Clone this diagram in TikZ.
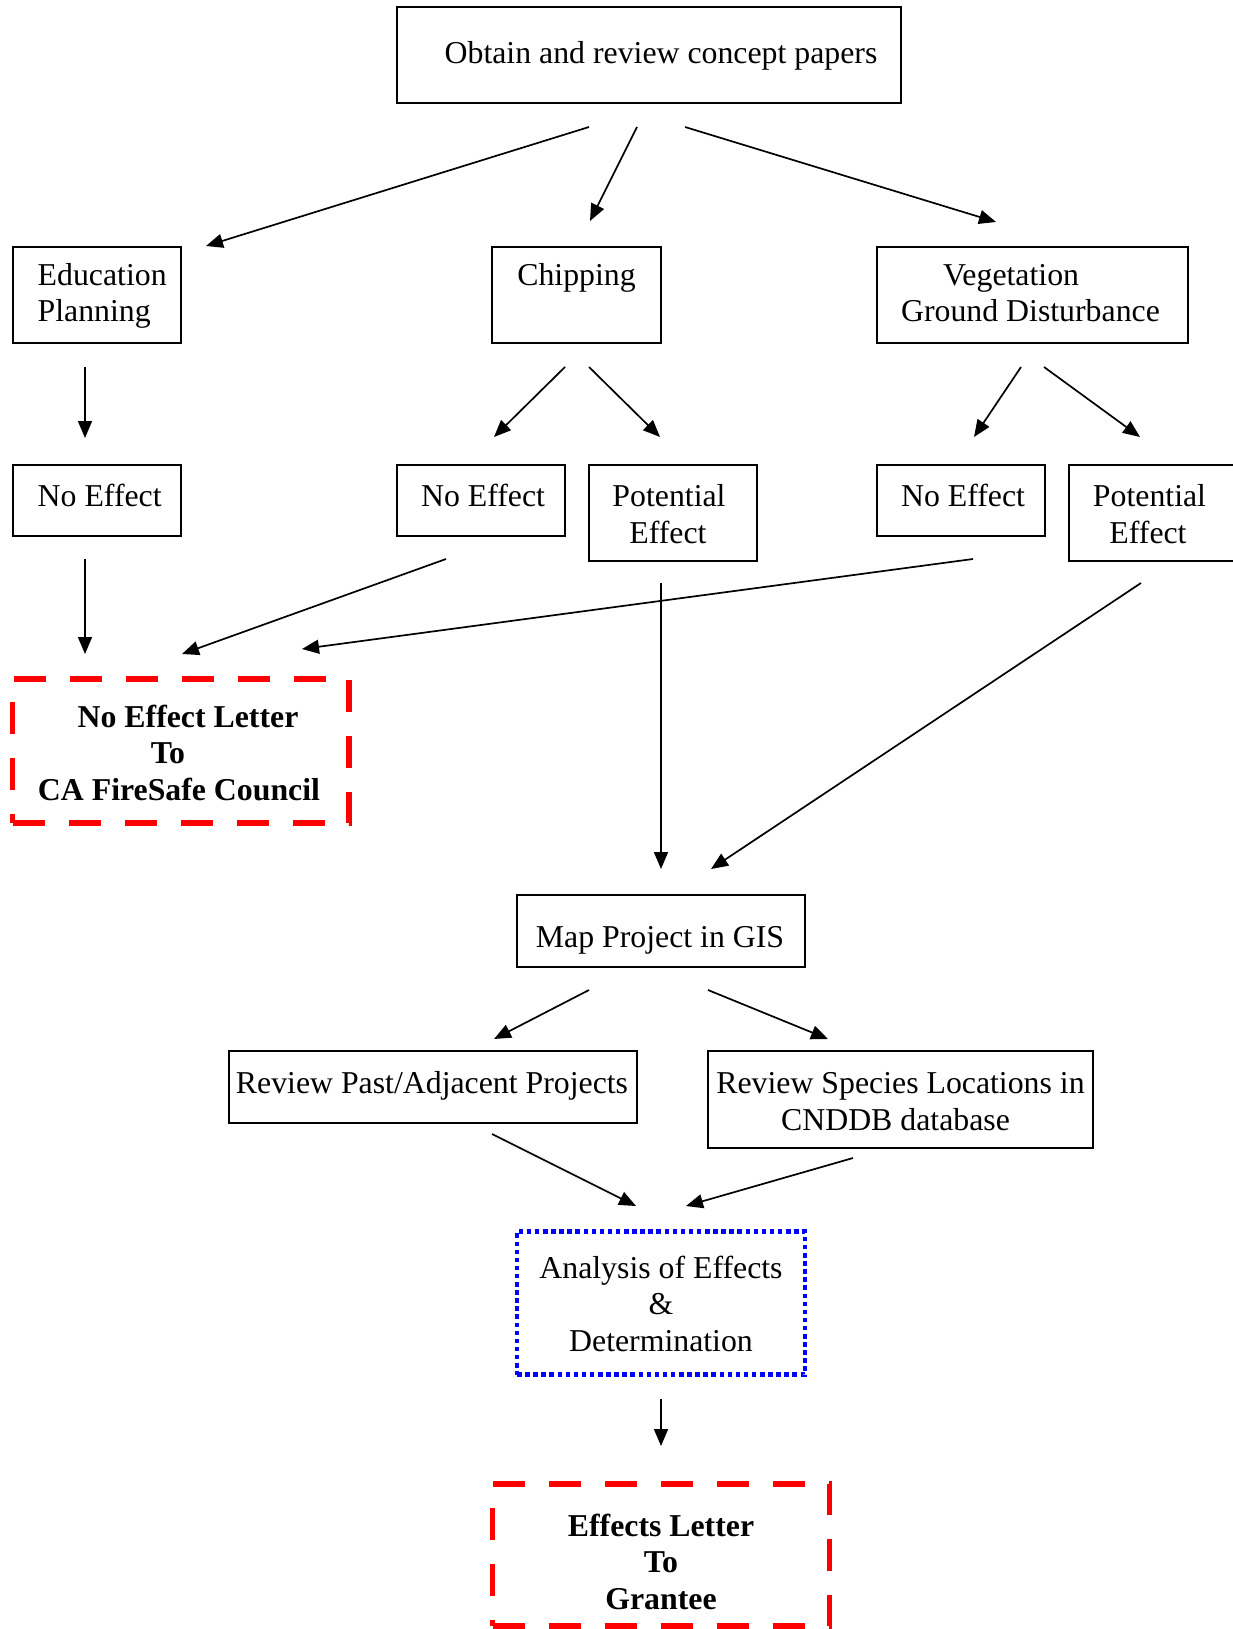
\documentclass[tikz,border=0pt]{standalone}
\usepackage{fontspec}
\setmainfont{Liberation Serif}
\usetikzlibrary{arrows.meta}
\begin{document}
\begin{tikzpicture}[x=1pt,y=-1pt,
  box/.style={draw, line width=2pt, inner sep=0pt, outer sep=0pt},
  reddash/.style={draw=red, line width=5.8pt, dash pattern=on 32pt off 24pt, inner sep=0pt},
  bluedot/.style={draw=blue, line width=4.5pt, dash pattern=on 4.5pt off 3.6pt, inner sep=0pt},
  txt/.style={anchor=base, inner sep=0pt, font=\fontsize{31.8}{36.5}\selectfont},
  btxt/.style={txt, font=\fontsize{31.8}{36.5}\selectfont\bfseries},
  arr/.style={-{Triangle[length=17pt,width=14pt]}, line width=1.7pt}]
\useasboundingbox (0,0) rectangle (1232,1629);

% boxes
\node[box, minimum width=504pt, minimum height=96pt] (top) at (649,55) {};
\node[box, minimum width=168.5pt, minimum height=96pt] (edu) at (96.75,295) {};
\node[box, minimum width=169pt, minimum height=96pt] (chip) at (576.5,295) {};
\node[box, minimum width=311pt, minimum height=96pt] (veg) at (1032.5,295) {};
\node[box, minimum width=168.5pt, minimum height=71pt] (neA) at (96.75,500.5) {};
\node[box, minimum width=168pt, minimum height=71pt] (neB) at (481,500.5) {};
\node[box, minimum width=168pt, minimum height=96pt] (peA) at (673,513) {};
\node[box, minimum width=168pt, minimum height=71pt] (neC) at (961,500.5) {};
\node[box, minimum width=168pt, minimum height=96pt] (peB) at (1153,513) {};
\node[reddash, minimum width=336.5pt, minimum height=144pt] (nel) at (180.75,751) {};
\node[box, minimum width=288pt, minimum height=72pt] (map) at (661,931) {};
\node[box, minimum width=408.5pt, minimum height=72pt] (rpast) at (432.75,1087) {};
\node[box, minimum width=385pt, minimum height=97pt] (rspec) at (900.5,1099.5) {};
\node[bluedot, minimum width=288pt, minimum height=143pt] (anal) at (661,1303) {};
\node[reddash, minimum width=337pt, minimum height=142pt] (eff) at (661,1555) {};

% texts
\node[txt] (ttop) at (661,64) {Obtain and review concept papers};
\node[txt, anchor=base west] (tedu1) at (37.5,285) {Education};
\node[txt, anchor=base west] (tedu2) at (37.5,321.5) {Planning};
\node[txt] (tchip) at (576.5,285) {Chipping};
\node[txt] (tveg1) at (1011,285) {Vegetation};
\node[txt] (tveg2) at (1030.5,321.5) {Ground Disturbance};
\node[txt] (tneA) at (99.7,506.5) {No Effect};
\node[txt] (tneB) at (483,506.5) {No Effect};
\node[txt] (tpeA1) at (669,506.5) {Potential};
\node[txt] (tpeA2) at (668,543) {Effect};
\node[txt] (tneC) at (963,506.5) {No Effect};
\node[txt] (tpeB1) at (1149.5,506.5) {Potential};
\node[txt] (tpeB2) at (1148,543) {Effect};
\node[btxt] (tnel1) at (188,727) {No Effect Letter};
\node[btxt] (tnel2) at (168,763.5) {To};
\node[btxt] (tnel3) at (179,800) {CA FireSafe Council};
\node[txt] (tmap) at (660,947) {Map Project in GIS};
\node[txt] (trpast) at (432,1093.5) {Review Past/Adjacent Projects};
\node[txt] (trspec1) at (900.5,1093.5) {Review Species Locations in};
\node[txt] (trspec2) at (895.5,1130) {CNDDB database};
\node[txt] (tanal1) at (661,1278) {Analysis of Effects};
\node[txt] (tanal2) at (661,1314.5) {\&};
\node[txt] (tanal3) at (661,1351) {Determination};
\node[btxt] (teff1) at (661,1536) {Effects Letter};
\node[btxt] (teff2) at (661,1572.5) {To};
\node[btxt] (teff3) at (661,1609) {Grantee};

% connector end points
\coordinate (a1s) at (589,127);  \coordinate (a1e) at (206,246);
\coordinate (a2s) at (637,127);  \coordinate (a2e) at (590,221);
\coordinate (a3s) at (685,127);  \coordinate (a3e) at (996,222);
\coordinate (b1s) at (85,367);   \coordinate (b1e) at (85,438);
\coordinate (b2s) at (565,367);  \coordinate (b2e) at (494,437);
\coordinate (b3s) at (589,367);  \coordinate (b3e) at (660,437);
\coordinate (b4s) at (1021,367); \coordinate (b4e) at (974,437);
\coordinate (b5s) at (1044,367); \coordinate (b5e) at (1140,437);
\coordinate (c1s) at (85,559);   \coordinate (c1e) at (85,654);
\coordinate (c2s) at (446,559);  \coordinate (c2e) at (182,654);
\coordinate (c3s) at (973,559);  \coordinate (c3e) at (302,649);
\coordinate (c4s) at (661,583);  \coordinate (c4e) at (661,869);
\coordinate (c5s) at (1141,583); \coordinate (c5e) at (711,869);
\coordinate (d1s) at (589,990);  \coordinate (d1e) at (494,1039);
\coordinate (d2s) at (708,990);  \coordinate (d2e) at (828,1039);
\coordinate (e1s) at (492,1134); \coordinate (e1e) at (636,1206);
\coordinate (e2s) at (853,1158); \coordinate (e2e) at (686,1206);
\coordinate (f1s) at (661,1399); \coordinate (f1e) at (661,1446);

\foreach \p in {a1,a2,a3,b1,b2,b3,b4,b5,c1,c2,c3,c4,c5,d1,d2,e1,e2,f1}
  \draw[arr] (\p s) -- (\p e);
\end{tikzpicture}
\end{document}
